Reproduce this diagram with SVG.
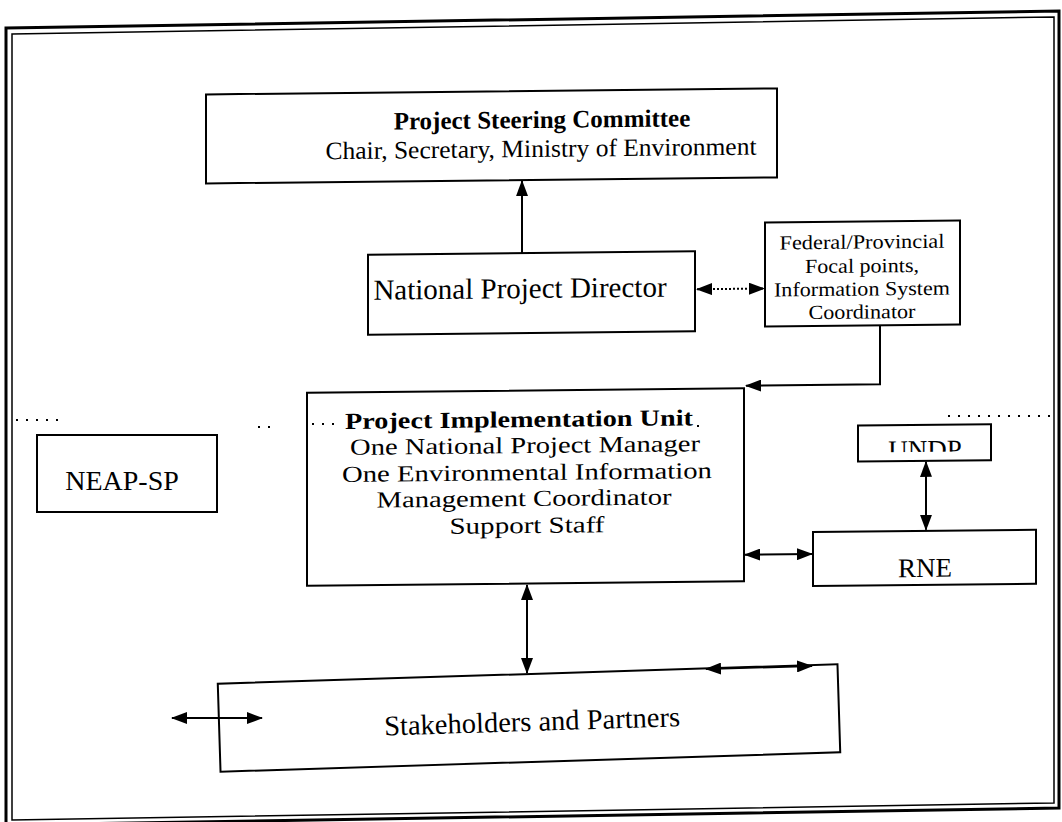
<svg xmlns="http://www.w3.org/2000/svg" width="1062" height="822" viewBox="0 0 1062 822">
<defs>
<marker id="ah" markerUnits="userSpaceOnUse" markerWidth="16" markerHeight="12" refX="15" refY="6" orient="auto-start-reverse"><path d="M0,0 L16,6 L0,12 z" fill="#000"/></marker>
<clipPath id="undpClip"><rect x="858" y="429" width="133" height="27"/></clipPath>
</defs>
<style>
.box{fill:none;stroke:#000;stroke-width:2}
.t{font-family:"Liberation Serif","Times New Roman",serif;fill:#000;text-anchor:middle}
.b{font-weight:bold}
.c{fill:none;stroke:#000;stroke-width:2}
.dash{stroke-dasharray:2 2}
.dots{stroke:#000;stroke-width:2;stroke-dasharray:2 8;fill:none}
</style>
<rect width="1062" height="822" fill="#fff"/>
<g id="frame">
<polygon points="6,28 1059,11 1059,808 6,825" fill="none" stroke="#000" stroke-width="3"/>
<polygon points="12,34 1054,17 1054,803 12,820" fill="none" stroke="#000" stroke-width="1.5"/>
</g>
<g transform="translate(0,5.55) skewY(-0.6)">
<g id="psc">
<rect class="box" x="206" y="91" width="571" height="89"/>
<text class="t b" x="542" y="128" font-size="25">Project Steering Committee</text>
<text class="t" x="541" y="157" font-size="25" textLength="431" lengthAdjust="spacingAndGlyphs">Chair, Secretary, Ministry of Environment</text>
</g>
<g id="npd">
<rect class="box" x="368" y="253" width="327" height="80"/>
<text class="t" x="520" y="298" font-size="29">National Project Director</text>
</g>
<g id="federal">
<rect class="box" x="765" y="225" width="195" height="104"/>
<text class="t" x="862" y="252" font-size="20" textLength="165" lengthAdjust="spacingAndGlyphs">Federal/Provincial</text>
<text class="t" x="862" y="276" font-size="20" textLength="114" lengthAdjust="spacingAndGlyphs">Focal points,</text>
<text class="t" x="862" y="299" font-size="20" textLength="176" lengthAdjust="spacingAndGlyphs">Information System</text>
<text class="t" x="862" y="322" font-size="20" textLength="107" lengthAdjust="spacingAndGlyphs">Coordinator</text>
</g>
<g id="piu">
<rect class="box" x="307" y="390.5" width="437" height="193"/>
<text class="t b" x="519" y="427" font-size="23" textLength="348" lengthAdjust="spacingAndGlyphs">Project Implementation Unit</text>
<text class="t" x="525" y="453" font-size="23" textLength="350" lengthAdjust="spacingAndGlyphs">One National Project Manager</text>
<text class="t" x="527" y="480" font-size="23" textLength="370" lengthAdjust="spacingAndGlyphs">One Environmental Information</text>
<text class="t" x="524" y="506" font-size="23" textLength="295" lengthAdjust="spacingAndGlyphs">Management Coordinator</text>
<text class="t" x="527" y="533" font-size="23" textLength="155" lengthAdjust="spacingAndGlyphs">Support Staff</text>
</g>
<g id="undp">
<rect class="box" x="858" y="429" width="133" height="36"/>
<text class="t" x="925" y="463" font-size="27" clip-path="url(#undpClip)">UNDP</text>
</g>
<g id="rne">
<rect class="box" x="813" y="535" width="223" height="54"/>
<text class="t" x="925" y="581" font-size="27">RNE</text>
</g>
<g id="connectors-main">
<line class="c" x1="522" y1="253" x2="522" y2="181" marker-end="url(#ah)"/>
<line class="c dash" x1="697" y1="291" x2="764" y2="291" marker-start="url(#ah)" marker-end="url(#ah)"/>
<polyline class="c" points="880,329 880,388 746,388" marker-end="url(#ah)"/>
<line class="c" x1="745" y1="557" x2="812" y2="557" marker-start="url(#ah)" marker-end="url(#ah)"/>
<line class="c" x1="926" y1="466" x2="926" y2="534" marker-start="url(#ah)" marker-end="url(#ah)"/>
<line class="c" x1="527" y1="585" x2="527" y2="673" marker-start="url(#ah)" marker-end="url(#ah)"/>
</g>
</g>
<g id="stakeholders" transform="rotate(-1.8 529 718)">
<rect class="box" x="219" y="674" width="620" height="88"/>
<text class="t" x="532" y="731" font-size="28.5">Stakeholders and Partners</text>
</g>
<g id="neap">
<rect class="box" x="37" y="435" width="180" height="77"/>
<text class="t" x="122" y="490" font-size="28">NEAP-SP</text>
</g>
<g id="connectors-side">
<line class="c" x1="172" y1="718" x2="262" y2="718" marker-start="url(#ah)" marker-end="url(#ah)"/>
<line class="c" x1="706" y1="669" x2="812" y2="666" marker-start="url(#ah)" marker-end="url(#ah)"/>
</g>
<path class="dots" d="M16,420 H62 M258,427 H276 M948,416 H1050 M312,424 H342 M697,426 H705"/>
</svg>
